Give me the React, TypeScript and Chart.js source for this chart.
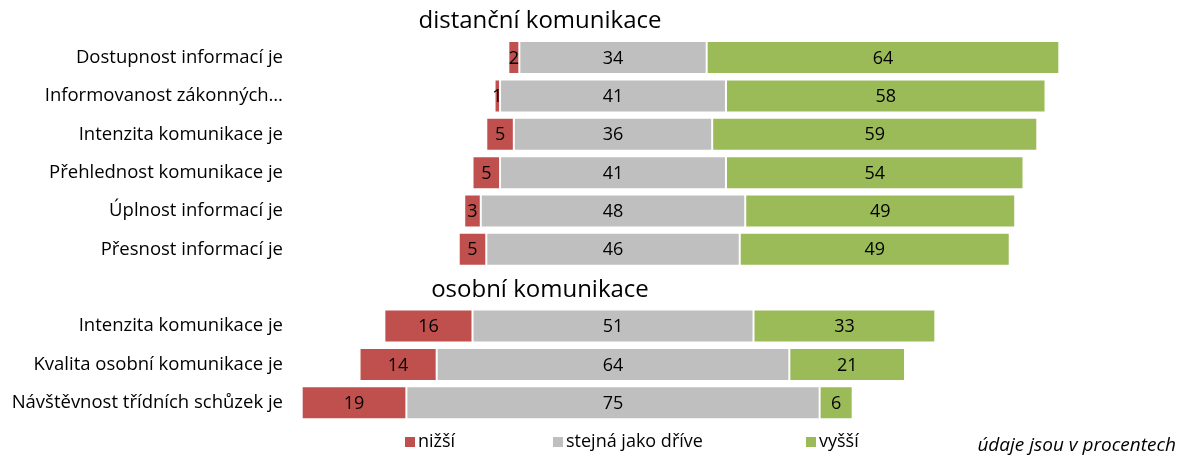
import React, { useEffect, useRef } from "react";
import { Chart, registerables } from "chart.js";
Chart.register(...registerables);

const categories = [
  "",
  "Dostupnost informací je",
  "Informovanost zákonných…",
  "Intenzita komunikace je",
  "Přehlednost komunikace je",
  "Úplnost informací je",
  "Přesnost informací je",
  "",
  "Intenzita komunikace je",
  "Kvalita osobní komunikace je",
  "Návštěvnost třídních schůzek je",
];
const groupHeaders = [
  { index: 0, text: "distanční komunikace" },
  { index: 7, text: "osobní komunikace" },
];
const lower = [null, 2, 1, 5, 5, 3, 5, null, 16, 14, 19];
const same = [null, 34, 41, 36, 41, 48, 46, null, 51, 64, 75];
const higher = [null, 64, 58, 59, 54, 49, 49, null, 33, 21, 6];
const seriesNames = ["nižší", "stejná jako dříve", "vyšší"];
const colors = ["#C0504D", "#BFBFBF", "#9BBB59"];
const note = "údaje jsou v procentech";

const FONT = "'Open Sans', sans-serif";

export default function App() {
  const ref = useRef<HTMLCanvasElement>(null);
  useEffect(() => {
    const redData = lower.map((r, i) => (r == null ? null : [-(r + (same[i] as number) / 2), -(same[i] as number) / 2]));
    const grayData = same.map((g) => (g == null ? null : [-g / 2, g / 2]));
    const greenData = higher.map((h, i) => (h == null ? null : [(same[i] as number) / 2, (same[i] as number) / 2 + h]));
    const raw = [lower, same, higher];

    const overlay = {
      id: "overlay",
      afterDatasetsDraw(chart: any) {
        const ctx = chart.ctx;
        ctx.save();
        ctx.fillStyle = "#000";
        ctx.font = `18px ${FONT}`;
        ctx.textAlign = "center";
        ctx.textBaseline = "middle";
        chart.data.datasets.forEach((ds: any, di: number) => {
          const meta = chart.getDatasetMeta(di);
          meta.data.forEach((el: any, i: number) => {
            const v = raw[di][i];
            if (v == null) return;
            const x = (el.base + el.x) / 2;
            ctx.fillText(String(v), x, el.y + 1);
          });
        });
        const y = chart.scales.y;
        ctx.font = `24px ${FONT}`;
        groupHeaders.forEach((h) => {
          ctx.fillText(h.text, 540, y.getPixelForValue(h.index) + 2);
        });
        ctx.font = `18px ${FONT}`;
        ctx.textAlign = "left";
        const lx = [405, 553, 806];
        const ly = 442;
        seriesNames.forEach((n, i) => {
          ctx.fillStyle = colors[i];
          ctx.fillRect(lx[i], ly - 5, 10, 10);
          ctx.fillStyle = "#000";
          ctx.fillText(n, lx[i] + 13, ly);
        });
        ctx.font = `italic 19px ${FONT}`;
        ctx.textAlign = "right";
        ctx.fillText(note, 1176, 446);
        ctx.restore();
      },
    };

    const chart = new Chart(ref.current as HTMLCanvasElement, {
      type: "bar",
      data: {
        labels: categories,
        datasets: [
          { label: seriesNames[0], data: redData as any, backgroundColor: colors[0], borderColor: "rgba(255,255,255,0.5)", borderWidth: 1, borderSkipped: false },
          { label: seriesNames[1], data: grayData as any, backgroundColor: colors[1], borderColor: "rgba(255,255,255,0.5)", borderWidth: 1, borderSkipped: false },
          { label: seriesNames[2], data: greenData as any, backgroundColor: colors[2], borderColor: "rgba(255,255,255,0.5)", borderWidth: 1, borderSkipped: false },
        ],
      },
      options: {
        indexAxis: "y",
        animation: false,
        responsive: false,
        maintainAspectRatio: false,
        layout: { padding: { top: 0, bottom: 38, right: 21, left: 0 } },
        datasets: { bar: { grouped: false, categoryPercentage: 1, barPercentage: 0.86 } } as any,
        scales: {
          x: { display: false, min: -58.26, max: 100 },
          y: {
            grid: { display: false, drawTicks: false },
            border: { display: false },
            ticks: { color: "#000", font: { family: FONT, size: 18.5 }, padding: 9, autoSkip: false },
            afterFit(scale: any) {
              scale.width = 292;
              scale.paddingTop = 0;
              scale.paddingBottom = 0;
            },
          },
        },
        plugins: { legend: { display: false }, tooltip: { enabled: false } },
      },
      plugins: [overlay],
    });
    return () => chart.destroy();
  }, []);
  return (
    <div style={{ position: "fixed", left: 0, top: 0, width: 1185, height: 460, background: "#fff" }}>
      <canvas ref={ref} width={1185} height={460} />
    </div>
  );
}
